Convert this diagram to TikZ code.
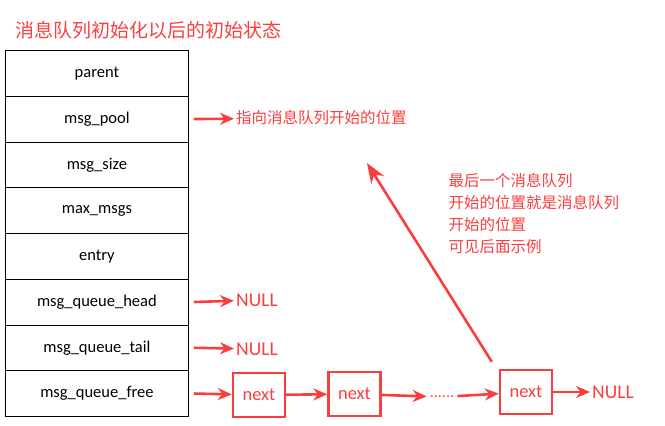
\documentclass[tikz,border=0pt]{standalone}
\usepackage{fontspec}
\setmainfont{Carlito}
\newfontfamily\cjk{Noto Sans CJK SC}
\usetikzlibrary{arrows.meta,positioning}
\definecolor{hired}{RGB}{250,62,62}

\begin{document}
\begin{tikzpicture}[x=1pt,y=-1pt,
    cell/.style={draw,line width=0.8pt,minimum width=183pt,minimum height=45.75pt,
        inner sep=0pt,anchor=north west,font=\fontsize{16.5}{19}\selectfont},
    fat/.style={hired,line width=2.6pt,-{Stealth[length=14pt,width=12pt]}},
    nextbox/.style={draw=hired,line width=2.4pt,text=hired,minimum width=52pt,
        minimum height=44pt,inner sep=0pt,font=\fontsize{18.5}{21}\selectfont},
    redtxt/.style={text=hired,inner sep=2pt,anchor=west,font=\fontsize{19.5}{22}\selectfont},
    note/.style={text=hired,align=left,font=\cjk\fontsize{15.5}{22}\selectfont}]
    \useasboundingbox (0,0) rectangle (665,426);
    % title
    \node[text=hired,anchor=west,inner sep=0pt,font=\cjk\fontsize{19}{22}\selectfont]
        (title) at (15,30) {消息队列初始化以后的初始状态};
    % the struct
    \node[cell] (parent) at (5,50) {parent};
    \node[cell] (pool)   at (5,95.75) {msg\_pool};
    \node[cell] (size)   at (5,141.5) {msg\_size};
    \node[cell] (maxm)   at (5,187.25) {max\_msgs};
    \node[cell] (entry)  at (5,233) {entry};
    \node[cell] (head)   at (5,278.75) {msg\_queue\_head};
    \node[cell] (tail)   at (5,324.5) {msg\_queue\_tail};
    \node[cell] (free)   at (5,370.25) {msg\_queue\_free};
    % pointers
    \node[redtxt,font=\cjk\fontsize{15.5}{19}\selectfont] (pooltxt) at (234,118) {指向消息队列开始的位置};
    \node[redtxt] (headnull) at (234,300) {NULL};
    \node[redtxt] (tailnull) at (234,349) {NULL};
    \draw[fat] ([xshift=5pt]pool.east) -- (pooltxt);
    \draw[fat] ([xshift=5pt]head.east) -- (headnull);
    \draw[fat] ([xshift=5pt]tail.east) -- (tailnull);
    % free list
    \node[nextbox] (n1) at (259,395) {next};
    \node[nextbox] (n2) at (354.5,394) {next};
    \node[text=hired,font=\fontsize{16}{19}\selectfont,inner sep=3pt] (dots) at (442,397) {......};
    \node[nextbox] (n3) at (526,392) {next};
    \node[redtxt] (lastnull) at (590,392) {NULL};
    \draw[fat] ([xshift=5pt]free.east) -- (n1);
    \draw[fat] (n1) -- (n2);
    \draw[fat] (n2) -- (dots);
    \draw[fat] (dots) -- (n3);
    \draw[fat] (n3) -- (lastnull);
    % last one points back to the start
    \coordinate (qstart) at (367,163);
    \draw[hired,line width=2.6pt,-{Stealth[length=20pt,width=15pt]}]
        ([shift={(-7,-7)}]n3.north west) -- (qstart);
    \node[note,anchor=north west] (remark) at (445,170)
        {最后一个消息队列\\开始的位置就是消息队列\\开始的位置\\可见后面示例};
\end{tikzpicture}
\end{document}
